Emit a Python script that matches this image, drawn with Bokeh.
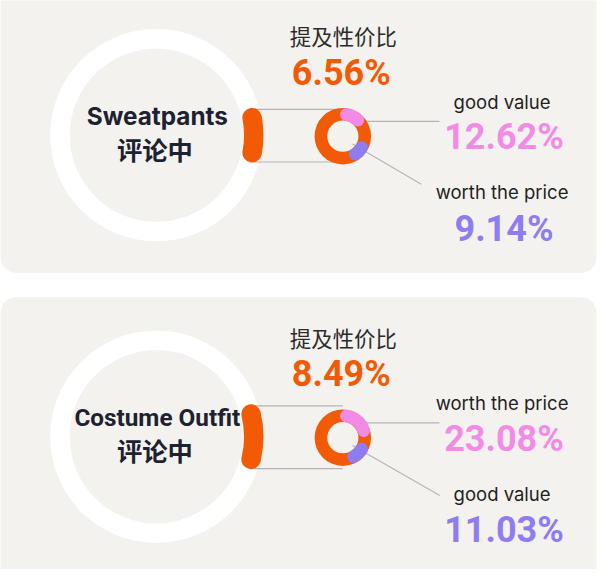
import math

from bokeh.plotting import figure
from bokeh.models import Range1d
from bokeh.core.properties import value
from bokeh.embed import file_html
from bokeh.resources import INLINE

# data
products = ["Sweatpants", "Costume Outfit"]
mention_label = "提及性价比"
mention_share = [6.56, 8.49]          # share of reviews mentioning value for money
first_label = ["good value", "worth the price"]
first_share = [12.62, 23.08]
second_label = ["worth the price", "good value"]
second_share = [9.14, 11.03]

# colours
PANEL = "#f4f2ee"
ORANGE = "#f25a06"
PINK = "#f38ae6"
PURPLE = "#8e7cf2"
DARK = "#1d2130"
GREY = "#b4b4b4"

# layout in reference pixels (y down), mapped onto a 598x569 frame
W, H = 614, 585
S = 598 / W
OFFSETS = [0, 310]
LEADER_END = [(432, 189), (451, 199)]


def Y(y):
    return H - y


def px(size):
    return f"{size * S:.1f}px"


def base(y, size):
    # bokeh's text sits lower than a true alphabetic baseline, so lift it a bit
    return Y(y - 0.33 * size)


def rounded_box(x0, x1, y0, y1, r, n=10):
    xs, ys = [], []
    corners = [(x1 - r, y0 + r, -90, 0), (x1 - r, y1 - r, 0, 90),
               (x0 + r, y1 - r, 90, 180), (x0 + r, y0 + r, 180, 270)]
    for ccx, ccy, a0, a1 in corners:
        for k in range(n + 1):
            a = math.radians(a0 + (a1 - a0) * k / n)
            xs.append(ccx + r * math.cos(a))
            ys.append(Y(ccy + r * math.sin(a)))
    return xs, ys


p = figure(width=598, height=569, x_range=Range1d(0, W), y_range=Range1d(0, H),
           output_backend="svg", toolbar_location=None, min_border=0,
           x_axis_location=None, y_axis_location=None)
p.grid.visible = False
p.outline_line_color = None
p.background_fill_color = "white"

# panels
for top, bottom in [(-30, 280), (305, 615)]:
    bx, by = rounded_box(0, 612, top, bottom, 16)
    p.patch(bx, by, fill_color=PANEL, line_color=None)

for i, off in enumerate(OFFSETS):
    cx, cy = 160, 138.5 + off        # big ring
    dx, dy = 351.5, 139.5 + off      # small donut

    p.annulus(x=[cx], y=[Y(cy)], inner_radius=89, outer_radius=109,
              fill_color="white", line_color=None)

    half = math.radians(mention_share[i] / 100 * 360 * 0.88 / 2)
    ext = 100 * math.sin(half) + 10
    # connectors from the ring slice to the donut
    p.segment(x0=[cx + 100, cx + 100], y0=[Y(cy - ext + 1.5), Y(cy + ext - 0.5)],
              x1=[dx, dx], y1=[Y(cy - ext + 1.5), Y(cy + ext - 0.5)],
              line_color=GREY, line_width=1.1)
    p.arc(x=[cx], y=[Y(cy)], radius=100, start_angle=-half, end_angle=half,
          line_color=ORANGE, line_width=20 * S, line_cap="round")

    # leaders to the labels
    ex, ey = LEADER_END[i]
    p.segment(x0=[dx + 10, dx + 10], y0=[Y(dy - 15.2), Y(dy + 8)],
              x1=[450.7, ex], y1=[Y(dy - 15.2), Y(ey + off)],
              line_color=GREY, line_width=1.1)

    p.annulus(x=[dx], y=[Y(dy)], inner_radius=16, outer_radius=29,
              fill_color=ORANGE, line_color=None)
    span1 = math.radians(first_share[i] / 100 * 360 * 0.75)
    a1 = math.radians(81)
    p.arc(x=[dx], y=[Y(dy)], radius=22.5, start_angle=a1 - span1, end_angle=a1,
          line_color=PINK, line_width=13 * S, line_cap="round")
    span2 = math.radians(second_share[i] / 100 * 360 * 0.75)
    a2 = math.radians(-31)
    p.arc(x=[dx], y=[Y(dy)], radius=22.5, start_angle=a2 - span2, end_angle=a2,
          line_color=PURPLE, line_width=13 * S, line_cap="round")

    # texts
    p.text(x=[352], y=[Y(36 + off)], text=[mention_label], text_font=value("Noto Sans CJK SC"),
           text_font_size=px(22), text_color="#2b2b2b", text_align="center", text_baseline="middle")
    p.text(x=[350], y=[base(86.7 + off, 37)], text=[f"{mention_share[i]:.2f}%"], text_font=value("Roboto"),
           text_font_style="bold", text_font_size=px(37), text_color=ORANGE,
           text_align="center", text_baseline="alphabetic")
    title_font = "Inter" if len(products[i]) < 12 else "Roboto"
    p.text(x=[161], y=[base(126.7 + off, 25)], text=[products[i]], text_font=value(title_font),
           text_font_style="bold", text_font_size=px(25), text_color=DARK,
           text_align="center", text_baseline="alphabetic")
    p.text(x=[158.5], y=[Y(152.5 + off)], text=["评论中"], text_font=value("Noto Sans CJK SC"),
           text_font_style="bold", text_font_size=px(26), text_color=DARK,
           text_align="center", text_baseline="middle")

    p.text(x=[515, 515], y=[base(110.6 + off, 19), base(203.5 + off, 19)],
           text=[first_label[i], second_label[i]],
           text_font=value("Inter"), text_font_size=px(19), text_color="#1f1f1f",
           text_align="center", text_baseline="alphabetic")
    p.text(x=[517], y=[base(152.7 + off, 37)], text=[f"{first_share[i]:.2f}%"], text_font=value("Roboto"),
           text_font_style="bold", text_font_size=px(37), text_color=PINK,
           text_align="center", text_baseline="alphabetic")
    p.text(x=[517], y=[base(246.7 + off, 37)], text=[f"{second_share[i]:.2f}%"], text_font=value("Roboto"),
           text_font_style="bold", text_font_size=px(37), text_color=PURPLE,
           text_align="center", text_baseline="alphabetic")

open("out.html", "w").write(file_html(p, INLINE))
